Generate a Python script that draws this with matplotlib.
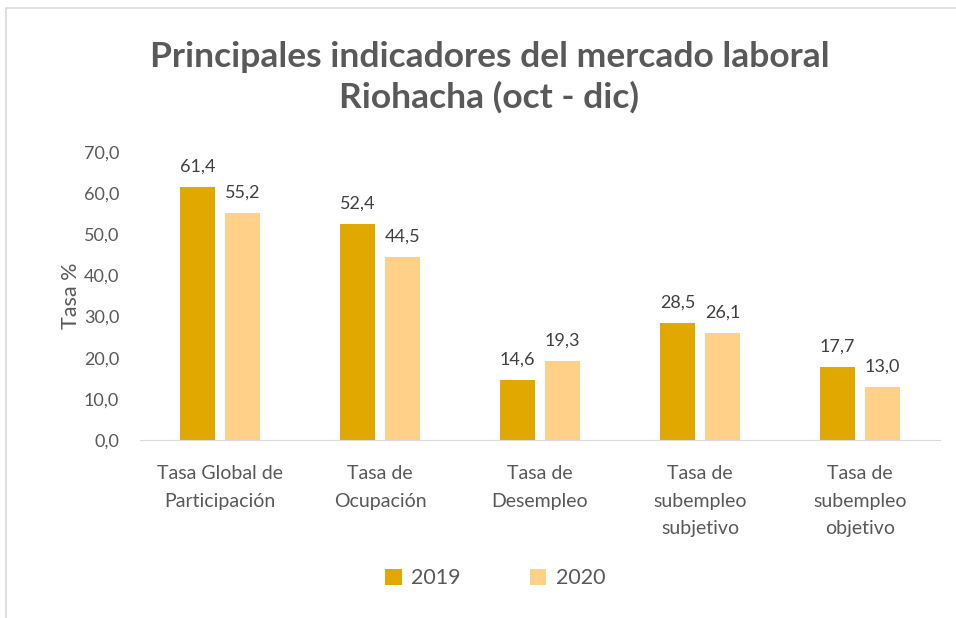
import matplotlib.pyplot as plt
import numpy as np
from matplotlib.patches import Rectangle

plt.rcParams['font.family'] = ['Lato', 'DejaVu Sans']

categories = ['Tasa Global de\nParticipación', 'Tasa de\nOcupación', 'Tasa de\nDesempleo',
              'Tasa de\nsubempleo\nsubjetivo', 'Tasa de\nsubempleo\nobjetivo']
vals_2019 = [61.4, 52.4, 14.6, 28.5, 17.7]
vals_2020 = [55.2, 44.5, 19.3, 26.1, 13.0]
yticks = [0, 10, 20, 30, 40, 50, 60, 70]

c19 = '#E0A800'
c20 = '#FFD088'
grey = '#595959'

fig = plt.figure(figsize=(9.56, 6.18), dpi=100)
ax = fig.add_axes([0.1464, 0.288, 0.837, 0.466])

x = np.arange(len(categories))
w = 0.22
off = 0.14
b1 = ax.bar(x - off, vals_2019, w, color=c19, label='2019')
b2 = ax.bar(x + off, vals_2020, w, color=c20, label='2020')

for bars in (b1, b2):
    for b in bars:
        ax.text(b.get_x() + b.get_width() / 2, b.get_height() + 3.0,
                f'{b.get_height():.1f}'.replace('.', ','),
                ha='center', va='bottom', fontsize=13, color='#404040')

ax.set_xlim(-0.5, len(categories) - 0.5)
ax.set_ylim(0, 70)
ax.set_yticks(yticks)
ax.set_yticklabels([f'{t:.1f}'.replace('.', ',') for t in yticks])
ax.set_xticks(x)
ax.set_xticklabels(categories, linespacing=1.75)
ax.tick_params(length=0, labelsize=13, labelcolor=grey)
ax.tick_params(axis='x', pad=18, labelsize=14)
ax.tick_params(axis='y', pad=15)
for s in ['top', 'right', 'left']:
    ax.spines[s].set_visible(False)
ax.spines['bottom'].set_color('#d9d9d9')
ax.set_ylabel('Tasa %', fontsize=15.5, color=grey, labelpad=2)

fig.text(0.512, 0.875, 'Principales indicadores del mercado laboral\nRiohacha (oct - dic)',
         ha='center', va='center', fontsize=25.5, fontweight='bold', color=grey, linespacing=1.3)

fig.legend(handles=[b1, b2], loc='center', bbox_to_anchor=(0.518, 0.064), ncol=2,
           frameon=False, fontsize=15.5, handlelength=0.75, handleheight=0.75,
           columnspacing=3.2, handletextpad=0.45, labelcolor=grey)

fig.patches.append(Rectangle((0.006, -0.1), 1.1, 1.087, transform=fig.transFigure,
                             fill=False, edgecolor='#d9d9d9', lw=1.2))

fig.savefig('out.png', dpi=100)
